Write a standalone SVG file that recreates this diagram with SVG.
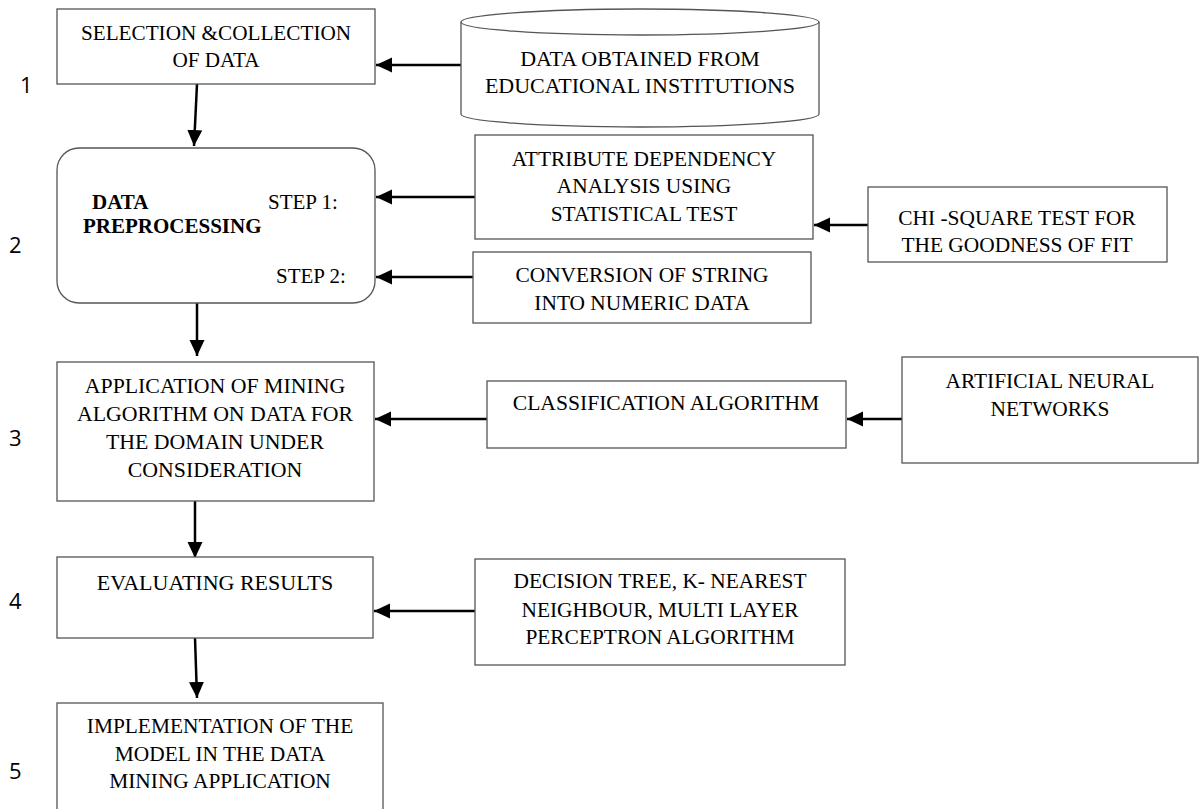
<svg xmlns="http://www.w3.org/2000/svg" width="1199" height="809" viewBox="0 0 1199 809">
<style>
.box{fill:#fff;stroke:#555;stroke-width:1.3}
.t{font-family:"Liberation Serif","Times New Roman",serif;font-size:21.4px;fill:#000;text-anchor:middle}
.b{font-weight:bold;text-anchor:start;font-size:21px}
.s{text-anchor:start;font-size:21px}
.num{font-family:"Open Sans","Liberation Sans",sans-serif;font-size:22px;fill:#000}
.c{stroke:#000;stroke-width:2.5;fill:none;marker-end:url(#ah)}
</style>
<defs>
<marker id="ah" markerUnits="userSpaceOnUse" markerWidth="18" markerHeight="16" viewBox="0 0 18 16" refX="16" refY="8" orient="auto">
<path d="M0,0.5 L16,8 L0,15.5 Z" fill="#000"/>
</marker>
</defs>
<rect width="1199" height="809" fill="#fff"/>
<g id="numbers">
<text class="num" x="20" y="93">1</text>
<text class="num" x="9" y="253">2</text>
<text class="num" x="9" y="446">3</text>
<text class="num" x="9" y="609">4</text>
<text class="num" x="9" y="779">5</text>
</g>
<g id="connectors">
<line class="c" x1="461" y1="65" x2="376" y2="65"/>
<line class="c" x1="197" y1="84" x2="194" y2="146"/>
<line class="c" x1="475" y1="197" x2="376" y2="197"/>
<line class="c" x1="473" y1="277" x2="376" y2="277"/>
<line class="c" x1="868" y1="225" x2="814" y2="225"/>
<line class="c" x1="197" y1="303" x2="197" y2="356"/>
<line class="c" x1="487" y1="419" x2="375" y2="419"/>
<line class="c" x1="902" y1="419" x2="847" y2="419"/>
<line class="c" x1="195" y1="501" x2="195" y2="558"/>
<line class="c" x1="475" y1="611" x2="374" y2="611"/>
<line class="c" x1="195" y1="638" x2="197" y2="698"/>
</g>
<g id="n1">
<rect class="box" x="57" y="9" width="318" height="75"/>
<text class="t" x="216" y="40" style="font-size:21.2px">SELECTION &amp;COLLECTION</text>
<text class="t" x="216" y="67" style="font-size:21.2px">OF DATA</text>
</g>
<g id="n_cyl">
<path class="box" d="M461,22 V114 A179,13 0 0 0 819,114 V22"/>
<ellipse class="box" cx="640" cy="22" rx="179" ry="13"/>
<text class="t" x="640" y="66" style="font-size:22px">DATA OBTAINED FROM</text>
<text class="t" x="640" y="93" style="font-size:22px">EDUCATIONAL INSTITUTIONS</text>
</g>
<g id="n2">
<rect class="box" x="57" y="148" width="318" height="155" rx="22" ry="22"/>
<text class="t b" x="92" y="209">DATA</text>
<text class="t b" x="83" y="233">PREPROCESSING</text>
<text class="t s" x="268" y="209">STEP 1:</text>
<text class="t s" x="276" y="283">STEP 2:</text>
</g>
<g id="n_attr">
<rect class="box" x="475" y="135" width="338" height="104"/>
<text class="t" x="644" y="166">ATTRIBUTE DEPENDENCY</text>
<text class="t" x="644" y="193">ANALYSIS USING</text>
<text class="t" x="644" y="221">STATISTICAL TEST</text>
</g>
<g id="n_chi">
<rect class="box" x="868" y="187" width="299" height="75"/>
<text class="t" x="1017" y="225">CHI -SQUARE TEST FOR</text>
<text class="t" x="1017" y="252">THE GOODNESS OF FIT</text>
</g>
<g id="n_conv">
<rect class="box" x="473" y="252" width="338" height="71"/>
<text class="t" x="642" y="282">CONVERSION OF STRING</text>
<text class="t" x="642" y="310">INTO NUMERIC DATA</text>
</g>
<g id="n3">
<rect class="box" x="57" y="362" width="317" height="139"/>
<text class="t" x="215" y="393" style="font-size:21.8px">APPLICATION OF MINING</text>
<text class="t" x="215" y="421" style="font-size:21.8px">ALGORITHM ON DATA FOR</text>
<text class="t" x="215" y="449" style="font-size:21.8px">THE DOMAIN UNDER</text>
<text class="t" x="215" y="477" style="font-size:21.8px">CONSIDERATION</text>
</g>
<g id="n_class">
<rect class="box" x="487" y="381" width="359" height="67"/>
<text class="t" x="666" y="410" style="font-size:21.6px">CLASSIFICATION ALGORITHM</text>
</g>
<g id="n_ann">
<rect class="box" x="902" y="357" width="296" height="106"/>
<text class="t" x="1050" y="388">ARTIFICIAL NEURAL</text>
<text class="t" x="1050" y="416">NETWORKS</text>
</g>
<g id="n4">
<rect class="box" x="57" y="557" width="316" height="81"/>
<text class="t" x="215" y="590" style="font-size:22px">EVALUATING RESULTS</text>
</g>
<g id="n_dec">
<rect class="box" x="475" y="559" width="370" height="106"/>
<text class="t" x="660" y="588">DECISION TREE, K- NEAREST</text>
<text class="t" x="660" y="617">NEIGHBOUR, MULTI LAYER</text>
<text class="t" x="660" y="644">PERCEPTRON ALGORITHM</text>
</g>
<g id="n5">
<rect class="box" x="57" y="703" width="326" height="110"/>
<text class="t" x="220" y="733">IMPLEMENTATION OF THE</text>
<text class="t" x="220" y="761">MODEL IN THE DATA</text>
<text class="t" x="220" y="788">MINING APPLICATION</text>
</g>
</svg>
